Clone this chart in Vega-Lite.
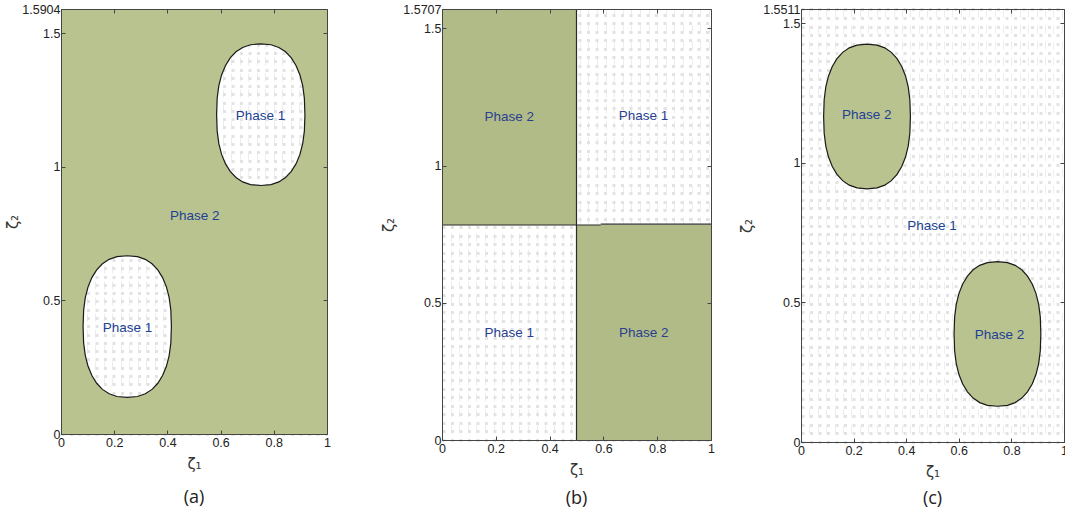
{
  "$schema": "https://vega.github.io/schema/vega-lite/v6.json",
  "padding": {"left": 5, "top": 3, "right": 0, "bottom": 20},
  "background": "white",
  "config": {
    "view": {"stroke": null},
    "axis": {"labelFont": "Liberation Sans", "titleFont": "DejaVu Sans", "labelFontSize": 12.5, "titleFontSize": 15, "labelColor": "#222", "titleColor": "#333", "titleFontWeight": "normal", "domainColor": "#444", "tickColor": "#444", "labelFlush": false, "labelOverlap": false},
    "title": {"font": "Open Sans", "fontSize": 18, "fontWeight": "normal", "color": "#222", "orient": "bottom", "anchor": "middle"}
  },
  "datasets": {
    "a_poly": [
      {"i":0,"x":0,"y":0},{"i":1,"x":1,"y":0},{"i":2,"x":1,"y":1.195},
      {"i":3,"e":"u","x":0.917,"y":1.195},{"i":4,"e":"u","x":0.9149,"y":1.1334},{"i":5,"e":"u","x":0.9086,"y":1.0866},{"i":6,"e":"u","x":0.8983,"y":1.0463},{"i":7,"e":"u","x":0.8839,"y":1.0116},{"i":8,"e":"u","x":0.8659,"y":0.9828},{"i":9,"e":"u","x":0.8442,"y":0.9599},{"i":10,"e":"u","x":0.8189,"y":0.9434},{"i":11,"e":"u","x":0.7896,"y":0.9334},{"i":12,"e":"u","x":0.751,"y":0.93},{"i":13,"e":"u","x":0.7124,"y":0.9334},{"i":14,"e":"u","x":0.6831,"y":0.9434},{"i":15,"e":"u","x":0.6578,"y":0.9599},{"i":16,"e":"u","x":0.6361,"y":0.9828},{"i":17,"e":"u","x":0.6181,"y":1.0116},{"i":18,"e":"u","x":0.6037,"y":1.0463},{"i":19,"e":"u","x":0.5934,"y":1.0866},{"i":20,"e":"u","x":0.5871,"y":1.1334},{"i":21,"e":"u","x":0.585,"y":1.195},{"i":22,"e":"u","x":0.5871,"y":1.2566},{"i":23,"e":"u","x":0.5934,"y":1.3034},{"i":24,"e":"u","x":0.6037,"y":1.3437},{"i":25,"e":"u","x":0.6181,"y":1.3784},{"i":26,"e":"u","x":0.6361,"y":1.4072},{"i":27,"e":"u","x":0.6578,"y":1.4301},{"i":28,"e":"u","x":0.6831,"y":1.4466},{"i":29,"e":"u","x":0.7124,"y":1.4566},{"i":30,"e":"u","x":0.751,"y":1.46},{"i":31,"e":"u","x":0.7896,"y":1.4566},{"i":32,"e":"u","x":0.8189,"y":1.4466},{"i":33,"e":"u","x":0.8442,"y":1.4301},{"i":34,"e":"u","x":0.8659,"y":1.4072},{"i":35,"e":"u","x":0.8839,"y":1.3784},{"i":36,"e":"u","x":0.8983,"y":1.3437},{"i":37,"e":"u","x":0.9086,"y":1.3034},{"i":38,"e":"u","x":0.9149,"y":1.2566},
      {"i":39,"x":0.917,"y":1.195},{"i":40,"x":1,"y":1.195},{"i":41,"x":1,"y":1.5904},{"i":42,"x":0,"y":1.5904},{"i":43,"x":0,"y":0.402},
      {"i":44,"e":"l","x":0.083,"y":0.402},{"i":45,"e":"l","x":0.0851,"y":0.4636},{"i":46,"e":"l","x":0.0914,"y":0.5104},{"i":47,"e":"l","x":0.1017,"y":0.5507},{"i":48,"e":"l","x":0.1161,"y":0.5854},{"i":49,"e":"l","x":0.1341,"y":0.6142},{"i":50,"e":"l","x":0.1558,"y":0.6371},{"i":51,"e":"l","x":0.1811,"y":0.6536},{"i":52,"e":"l","x":0.2104,"y":0.6636},{"i":53,"e":"l","x":0.249,"y":0.667},{"i":54,"e":"l","x":0.2876,"y":0.6636},{"i":55,"e":"l","x":0.3169,"y":0.6536},{"i":56,"e":"l","x":0.3422,"y":0.6371},{"i":57,"e":"l","x":0.3639,"y":0.6142},{"i":58,"e":"l","x":0.3819,"y":0.5854},{"i":59,"e":"l","x":0.3963,"y":0.5507},{"i":60,"e":"l","x":0.4066,"y":0.5104},{"i":61,"e":"l","x":0.4129,"y":0.4636},{"i":62,"e":"l","x":0.415,"y":0.402},{"i":63,"e":"l","x":0.4129,"y":0.3404},{"i":64,"e":"l","x":0.4066,"y":0.2936},{"i":65,"e":"l","x":0.3963,"y":0.2533},{"i":66,"e":"l","x":0.3819,"y":0.2186},{"i":67,"e":"l","x":0.3639,"y":0.1898},{"i":68,"e":"l","x":0.3422,"y":0.1669},{"i":69,"e":"l","x":0.3169,"y":0.1504},{"i":70,"e":"l","x":0.2876,"y":0.1404},{"i":71,"e":"l","x":0.249,"y":0.137},{"i":72,"e":"l","x":0.2104,"y":0.1404},{"i":73,"e":"l","x":0.1811,"y":0.1504},{"i":74,"e":"l","x":0.1558,"y":0.1669},{"i":75,"e":"l","x":0.1341,"y":0.1898},{"i":76,"e":"l","x":0.1161,"y":0.2186},{"i":77,"e":"l","x":0.1017,"y":0.2533},{"i":78,"e":"l","x":0.0914,"y":0.2936},{"i":79,"e":"l","x":0.0851,"y":0.3404},
      {"i":80,"x":0.083,"y":0.402},{"i":81,"x":0,"y":0.402}
    ],
    "a_text": [
      {"x":0.75,"y":1.19,"t":"Phase 1"},{"x":0.503,"y":0.814,"t":"Phase 2"},{"x":0.25,"y":0.397,"t":"Phase 1"}
    ],
    "b_rect": [
      {"x":0,"x2":0.5,"y":0.7835,"y2":1.5707},{"x":0.5,"x2":1,"y":0,"y2":0.7835}
    ],
    "b_line": [
      {"x":0,"x2":0.59,"y":0.7835,"y2":0.7835},{"x":0.59,"x2":1,"y":0.787,"y2":0.787},{"x":0.5,"x2":0.5,"y":0,"y2":1.5707}
    ],
    "b_text": [
      {"x":0.25,"y":1.177,"t":"Phase 2"},{"x":0.749,"y":1.18,"t":"Phase 1"},{"x":0.25,"y":0.391,"t":"Phase 1"},{"x":0.75,"y":0.391,"t":"Phase 2"}
    ],
    "c_ell": [
      {"e":"u","i":0,"x":0.416,"y":1.166},{"e":"u","i":1,"x":0.4139,"y":1.2262},{"e":"u","i":2,"x":0.4077,"y":1.2719},{"e":"u","i":3,"x":0.3974,"y":1.3114},{"e":"u","i":4,"x":0.3831,"y":1.3452},{"e":"u","i":5,"x":0.3652,"y":1.3734},{"e":"u","i":6,"x":0.3436,"y":1.3958},{"e":"u","i":7,"x":0.3185,"y":1.4119},{"e":"u","i":8,"x":0.2893,"y":1.4217},{"e":"u","i":9,"x":0.251,"y":1.425},{"e":"u","i":10,"x":0.2127,"y":1.4217},{"e":"u","i":11,"x":0.1835,"y":1.4119},{"e":"u","i":12,"x":0.1584,"y":1.3958},{"e":"u","i":13,"x":0.1368,"y":1.3734},{"e":"u","i":14,"x":0.1189,"y":1.3452},{"e":"u","i":15,"x":0.1046,"y":1.3114},{"e":"u","i":16,"x":0.0943,"y":1.2719},{"e":"u","i":17,"x":0.0881,"y":1.2262},{"e":"u","i":18,"x":0.086,"y":1.166},{"e":"u","i":19,"x":0.0881,"y":1.1058},{"e":"u","i":20,"x":0.0943,"y":1.0601},{"e":"u","i":21,"x":0.1046,"y":1.0206},{"e":"u","i":22,"x":0.1189,"y":0.9868},{"e":"u","i":23,"x":0.1368,"y":0.9586},{"e":"u","i":24,"x":0.1584,"y":0.9362},{"e":"u","i":25,"x":0.1835,"y":0.9201},{"e":"u","i":26,"x":0.2127,"y":0.9103},{"e":"u","i":27,"x":0.251,"y":0.907},{"e":"u","i":28,"x":0.2893,"y":0.9103},{"e":"u","i":29,"x":0.3185,"y":0.9201},{"e":"u","i":30,"x":0.3436,"y":0.9362},{"e":"u","i":31,"x":0.3652,"y":0.9586},{"e":"u","i":32,"x":0.3831,"y":0.9868},{"e":"u","i":33,"x":0.3974,"y":1.0206},{"e":"u","i":34,"x":0.4077,"y":1.0601},{"e":"u","i":35,"x":0.4139,"y":1.1058},
      {"e":"l","i":0,"x":0.912,"y":0.387},{"e":"l","i":1,"x":0.9099,"y":0.4472},{"e":"l","i":2,"x":0.9037,"y":0.4929},{"e":"l","i":3,"x":0.8934,"y":0.5324},{"e":"l","i":4,"x":0.8791,"y":0.5662},{"e":"l","i":5,"x":0.8612,"y":0.5944},{"e":"l","i":6,"x":0.8396,"y":0.6168},{"e":"l","i":7,"x":0.8145,"y":0.6329},{"e":"l","i":8,"x":0.7853,"y":0.6427},{"e":"l","i":9,"x":0.747,"y":0.646},{"e":"l","i":10,"x":0.7087,"y":0.6427},{"e":"l","i":11,"x":0.6795,"y":0.6329},{"e":"l","i":12,"x":0.6544,"y":0.6168},{"e":"l","i":13,"x":0.6328,"y":0.5944},{"e":"l","i":14,"x":0.6149,"y":0.5662},{"e":"l","i":15,"x":0.6006,"y":0.5324},{"e":"l","i":16,"x":0.5903,"y":0.4929},{"e":"l","i":17,"x":0.5841,"y":0.4472},{"e":"l","i":18,"x":0.582,"y":0.387},{"e":"l","i":19,"x":0.5841,"y":0.3268},{"e":"l","i":20,"x":0.5903,"y":0.2811},{"e":"l","i":21,"x":0.6006,"y":0.2416},{"e":"l","i":22,"x":0.6149,"y":0.2078},{"e":"l","i":23,"x":0.6328,"y":0.1796},{"e":"l","i":24,"x":0.6544,"y":0.1572},{"e":"l","i":25,"x":0.6795,"y":0.1411},{"e":"l","i":26,"x":0.7087,"y":0.1313},{"e":"l","i":27,"x":0.747,"y":0.128},{"e":"l","i":28,"x":0.7853,"y":0.1313},{"e":"l","i":29,"x":0.8145,"y":0.1411},{"e":"l","i":30,"x":0.8396,"y":0.1572},{"e":"l","i":31,"x":0.8612,"y":0.1796},{"e":"l","i":32,"x":0.8791,"y":0.2078},{"e":"l","i":33,"x":0.8934,"y":0.2416},{"e":"l","i":34,"x":0.9037,"y":0.2811},{"e":"l","i":35,"x":0.9099,"y":0.3268}
    ],
    "c_text": [
      {"x":0.25,"y":1.17,"t":"Phase 2"},{"x":0.498,"y":0.772,"t":"Phase 1"},{"x":0.755,"y":0.383,"t":"Phase 2"}
    ]
  },
  "hconcat": [
    {
      "width": 266, "height": 425,
      "title": {"text": "(a)", "offset": 17},
      "resolve": {"axis": {"x": "independent", "y": "independent"}},
      "layer": [
        {
          "data": {"name": "a_poly"},
          "mark": {"type": "line", "fill": "#b9c390", "strokeWidth": 0, "strokeOpacity": 0, "interpolate": "linear"},
          "encoding": {
            "x": {"field": "x", "type": "quantitative", "scale": {"domain": [0, 1], "nice": false, "zero": false},
                  "axis": {"orient": "bottom", "values": [0,0.032,0.064,0.096,0.128,0.16,0.192,0.224,0.256,0.288,0.32,0.352,0.384,0.416,0.448,0.48,0.512,0.544,0.576,0.608,0.64,0.672,0.704,0.736,0.768,0.8,0.832,0.864,0.896,0.928,0.96,0.992], "grid": true, "gridColor": "#ededed", "gridWidth": 1, "gridDash": [8, 8], "labels": false, "ticks": false, "domain": false, "title": null, "zindex": 0}},
            "y": {"field": "y", "type": "quantitative", "scale": {"domain": [0, 1.5904], "nice": false, "zero": false},
                  "axis": {"orient": "left", "values": [0,0.031,0.062,0.093,0.124,0.155,0.186,0.217,0.248,0.279,0.31,0.341,0.372,0.403,0.434,0.465,0.496,0.527,0.558,0.589,0.62,0.651,0.682,0.713,0.744,0.775,0.806,0.837,0.868,0.899,0.93,0.961,0.992,1.023,1.054,1.085,1.116,1.147,1.178,1.209,1.24,1.271,1.302,1.333,1.364,1.395,1.426,1.457,1.488,1.519,1.55], "grid": true, "gridColor": "#e3e3e3", "gridWidth": 3, "gridDash": [3, 5.5], "labels": false, "ticks": false, "domain": false, "title": null, "zindex": 0}},
            "order": {"field": "i", "type": "quantitative"}
          }
        },
        {
          "data": {"name": "a_poly"},
          "transform": [{"filter": "isValid(datum.e)"}],
          "mark": {"type": "line", "interpolate": "linear-closed", "stroke": "#1a1a1a", "strokeWidth": 1.2},
          "encoding": {
            "x": {"field": "x", "type": "quantitative", "scale": {"domain": [0, 1], "nice": false, "zero": false},
                  "axis": {"orient": "bottom", "values": [0,0.2,0.4,0.6,0.8,1], "format": ".5~g", "title": "ζ₁", "grid": false, "tickSize": -4, "labelPadding": 6, "titlePadding": 8, "zindex": 1}},
            "y": {"field": "y", "type": "quantitative", "scale": {"domain": [0, 1.5904], "nice": false, "zero": false},
                  "axis": {"orient": "left", "values": [0,0.5,1,1.5,1.5904], "format": ".5~g", "title": "ζ₂", "grid": false, "tickSize": -4, "labelPadding": 5, "titlePadding": 1, "zindex": 1}},
            "detail": {"field": "e"},
            "order": {"field": "i", "type": "quantitative"}
          }
        },
        {
          "data": {"name": "a_text"},
          "mark": {"type": "text", "font": "Liberation Sans", "fontSize": 13.5, "color": "#213f94", "baseline": "middle", "align": "center"},
          "encoding": {
            "x": {"field": "x", "type": "quantitative", "scale": {"domain": [0, 1], "nice": false, "zero": false},
                  "axis": {"orient": "top", "values": [0,0.2,0.4,0.6,0.8,1], "labels": false, "title": null, "grid": false, "tickSize": -4, "zindex": 1}},
            "y": {"field": "y", "type": "quantitative", "scale": {"domain": [0, 1.5904], "nice": false, "zero": false},
                  "axis": {"orient": "right", "values": [0,0.5,1,1.5], "labels": false, "title": null, "grid": false, "tickSize": -4, "zindex": 1}},
            "text": {"field": "t"}
          }
        }
      ]
    },
    {
      "hconcat": [
        {
          "width": 269, "height": 431,
          "title": {"text": "(b)", "offset": 12},
          "resolve": {"axis": {"x": "independent", "y": "independent"}},
          "layer": [
            {
              "data": {"name": "b_rect"},
              "mark": {"type": "rect", "fill": "#b1bb87"},
              "encoding": {
                "x": {"field": "x", "type": "quantitative", "scale": {"domain": [0, 1], "nice": false, "zero": false},
                      "axis": {"orient": "bottom", "values": [0,0.032,0.064,0.096,0.128,0.16,0.192,0.224,0.256,0.288,0.32,0.352,0.384,0.416,0.448,0.48,0.512,0.544,0.576,0.608,0.64,0.672,0.704,0.736,0.768,0.8,0.832,0.864,0.896,0.928,0.96,0.992], "grid": true, "gridColor": "#ededed", "gridWidth": 1, "gridDash": [8, 8], "labels": false, "ticks": false, "domain": false, "title": null, "zindex": 0}},
                "x2": {"field": "x2"},
                "y": {"field": "y", "type": "quantitative", "scale": {"domain": [0, 1.5707], "nice": false, "zero": false},
                      "axis": {"orient": "left", "values": [0,0.031,0.062,0.093,0.124,0.155,0.186,0.217,0.248,0.279,0.31,0.341,0.372,0.403,0.434,0.465,0.496,0.527,0.558,0.589,0.62,0.651,0.682,0.713,0.744,0.775,0.806,0.837,0.868,0.899,0.93,0.961,0.992,1.023,1.054,1.085,1.116,1.147,1.178,1.209,1.24,1.271,1.302,1.333,1.364,1.395,1.426,1.457,1.488,1.519,1.55], "grid": true, "gridColor": "#e3e3e3", "gridWidth": 3, "gridDash": [3, 5.5], "labels": false, "ticks": false, "domain": false, "title": null, "zindex": 0}},
                "y2": {"field": "y2"}
              }
            },
            {
              "data": {"name": "b_line"},
              "mark": {"type": "rule", "color": "#2a2a2a", "strokeWidth": 1.2},
              "encoding": {
                "x": {"field": "x", "type": "quantitative", "scale": {"domain": [0, 1], "nice": false, "zero": false},
                      "axis": {"orient": "bottom", "values": [0,0.2,0.4,0.6,0.8,1], "format": ".5~g", "title": "ζ₁", "grid": false, "tickSize": -4, "labelPadding": 6, "titlePadding": 8, "zindex": 1}},
                "x2": {"field": "x2"},
                "y": {"field": "y", "type": "quantitative", "scale": {"domain": [0, 1.5707], "nice": false, "zero": false},
                      "axis": {"orient": "left", "values": [0,0.5,1,1.5,1.5707], "format": ".5~g", "title": "ζ₂", "grid": false, "tickSize": -4, "labelPadding": 5, "titlePadding": 6, "zindex": 1}},
                "y2": {"field": "y2"}
              }
            },
            {
              "data": {"name": "b_text"},
              "mark": {"type": "text", "font": "Liberation Sans", "fontSize": 13.5, "color": "#2a3f8f", "baseline": "middle", "align": "center"},
              "encoding": {
                "x": {"field": "x", "type": "quantitative", "scale": {"domain": [0, 1], "nice": false, "zero": false},
                      "axis": {"orient": "top", "values": [0,0.2,0.4,0.6,0.8,1], "labels": false, "title": null, "grid": false, "tickSize": -4, "zindex": 1}},
                "y": {"field": "y", "type": "quantitative", "scale": {"domain": [0, 1.5707], "nice": false, "zero": false},
                      "axis": {"orient": "right", "values": [0,0.5,1,1.5], "labels": false, "title": null, "grid": false, "tickSize": -4, "zindex": 1}},
                "text": {"field": "t"}
              }
            }
          ]
        },
        {
          "width": 263, "height": 433,
          "title": {"text": "(c)", "offset": 10},
          "resolve": {"axis": {"x": "independent", "y": "independent"}},
          "layer": [
            {
              "data": {"name": "c_ell"},
              "mark": {"type": "line", "fill": "#b9c38f", "strokeWidth": 0, "strokeOpacity": 0, "interpolate": "linear-closed"},
              "encoding": {
                "x": {"field": "x", "type": "quantitative", "scale": {"domain": [0, 1], "nice": false, "zero": false},
                      "axis": {"orient": "bottom", "values": [0,0.032,0.064,0.096,0.128,0.16,0.192,0.224,0.256,0.288,0.32,0.352,0.384,0.416,0.448,0.48,0.512,0.544,0.576,0.608,0.64,0.672,0.704,0.736,0.768,0.8,0.832,0.864,0.896,0.928,0.96,0.992], "grid": true, "gridColor": "#ededed", "gridWidth": 1, "gridDash": [8, 8], "labels": false, "ticks": false, "domain": false, "title": null, "zindex": 0}},
                "y": {"field": "y", "type": "quantitative", "scale": {"domain": [0, 1.5511], "nice": false, "zero": false},
                      "axis": {"orient": "left", "values": [0,0.031,0.062,0.093,0.124,0.155,0.186,0.217,0.248,0.279,0.31,0.341,0.372,0.403,0.434,0.465,0.496,0.527,0.558,0.589,0.62,0.651,0.682,0.713,0.744,0.775,0.806,0.837,0.868,0.899,0.93,0.961,0.992,1.023,1.054,1.085,1.116,1.147,1.178,1.209,1.24,1.271,1.302,1.333,1.364,1.395,1.426,1.457,1.488,1.519,1.55], "grid": true, "gridColor": "#e3e3e3", "gridWidth": 3, "gridDash": [3, 5.5], "labels": false, "ticks": false, "domain": false, "title": null, "zindex": 0}},
                "detail": {"field": "e"},
                "order": {"field": "i", "type": "quantitative"}
              }
            },
            {
              "data": {"name": "c_ell"},
              "mark": {"type": "line", "interpolate": "linear-closed", "stroke": "#1a1a1a", "strokeWidth": 1.2},
              "encoding": {
                "x": {"field": "x", "type": "quantitative", "scale": {"domain": [0, 1], "nice": false, "zero": false},
                      "axis": {"orient": "bottom", "values": [0,0.2,0.4,0.6,0.8,1], "format": ".5~g", "title": "ζ₁", "grid": false, "tickSize": -4, "labelPadding": 6, "titlePadding": 8, "zindex": 1}},
                "y": {"field": "y", "type": "quantitative", "scale": {"domain": [0, 1.5511], "nice": false, "zero": false},
                      "axis": {"orient": "left", "values": [0,0.5,1,1.5,1.5511], "format": ".5~g", "title": "ζ₂", "grid": false, "tickSize": -4, "labelPadding": 5, "titlePadding": 8, "zindex": 1}},
                "detail": {"field": "e"},
                "order": {"field": "i", "type": "quantitative"}
              }
            },
            {
              "data": {"name": "c_text"},
              "mark": {"type": "text", "font": "Liberation Sans", "fontSize": 13.5, "color": "#213f94", "baseline": "middle", "align": "center"},
              "encoding": {
                "x": {"field": "x", "type": "quantitative", "scale": {"domain": [0, 1], "nice": false, "zero": false},
                      "axis": {"orient": "top", "values": [0,0.2,0.4,0.6,0.8,1], "labels": false, "title": null, "grid": false, "tickSize": -4, "zindex": 1}},
                "y": {"field": "y", "type": "quantitative", "scale": {"domain": [0, 1.5511], "nice": false, "zero": false},
                      "axis": {"orient": "right", "values": [0,0.5,1,1.5], "labels": false, "title": null, "grid": false, "tickSize": -4, "zindex": 1}},
                "text": {"field": "t"}
              }
            }
          ]
        }
      ],
      "spacing": 90,
      "bounds": "flush"
    }
  ],
  "spacing": 115,
  "bounds": "flush"
}
